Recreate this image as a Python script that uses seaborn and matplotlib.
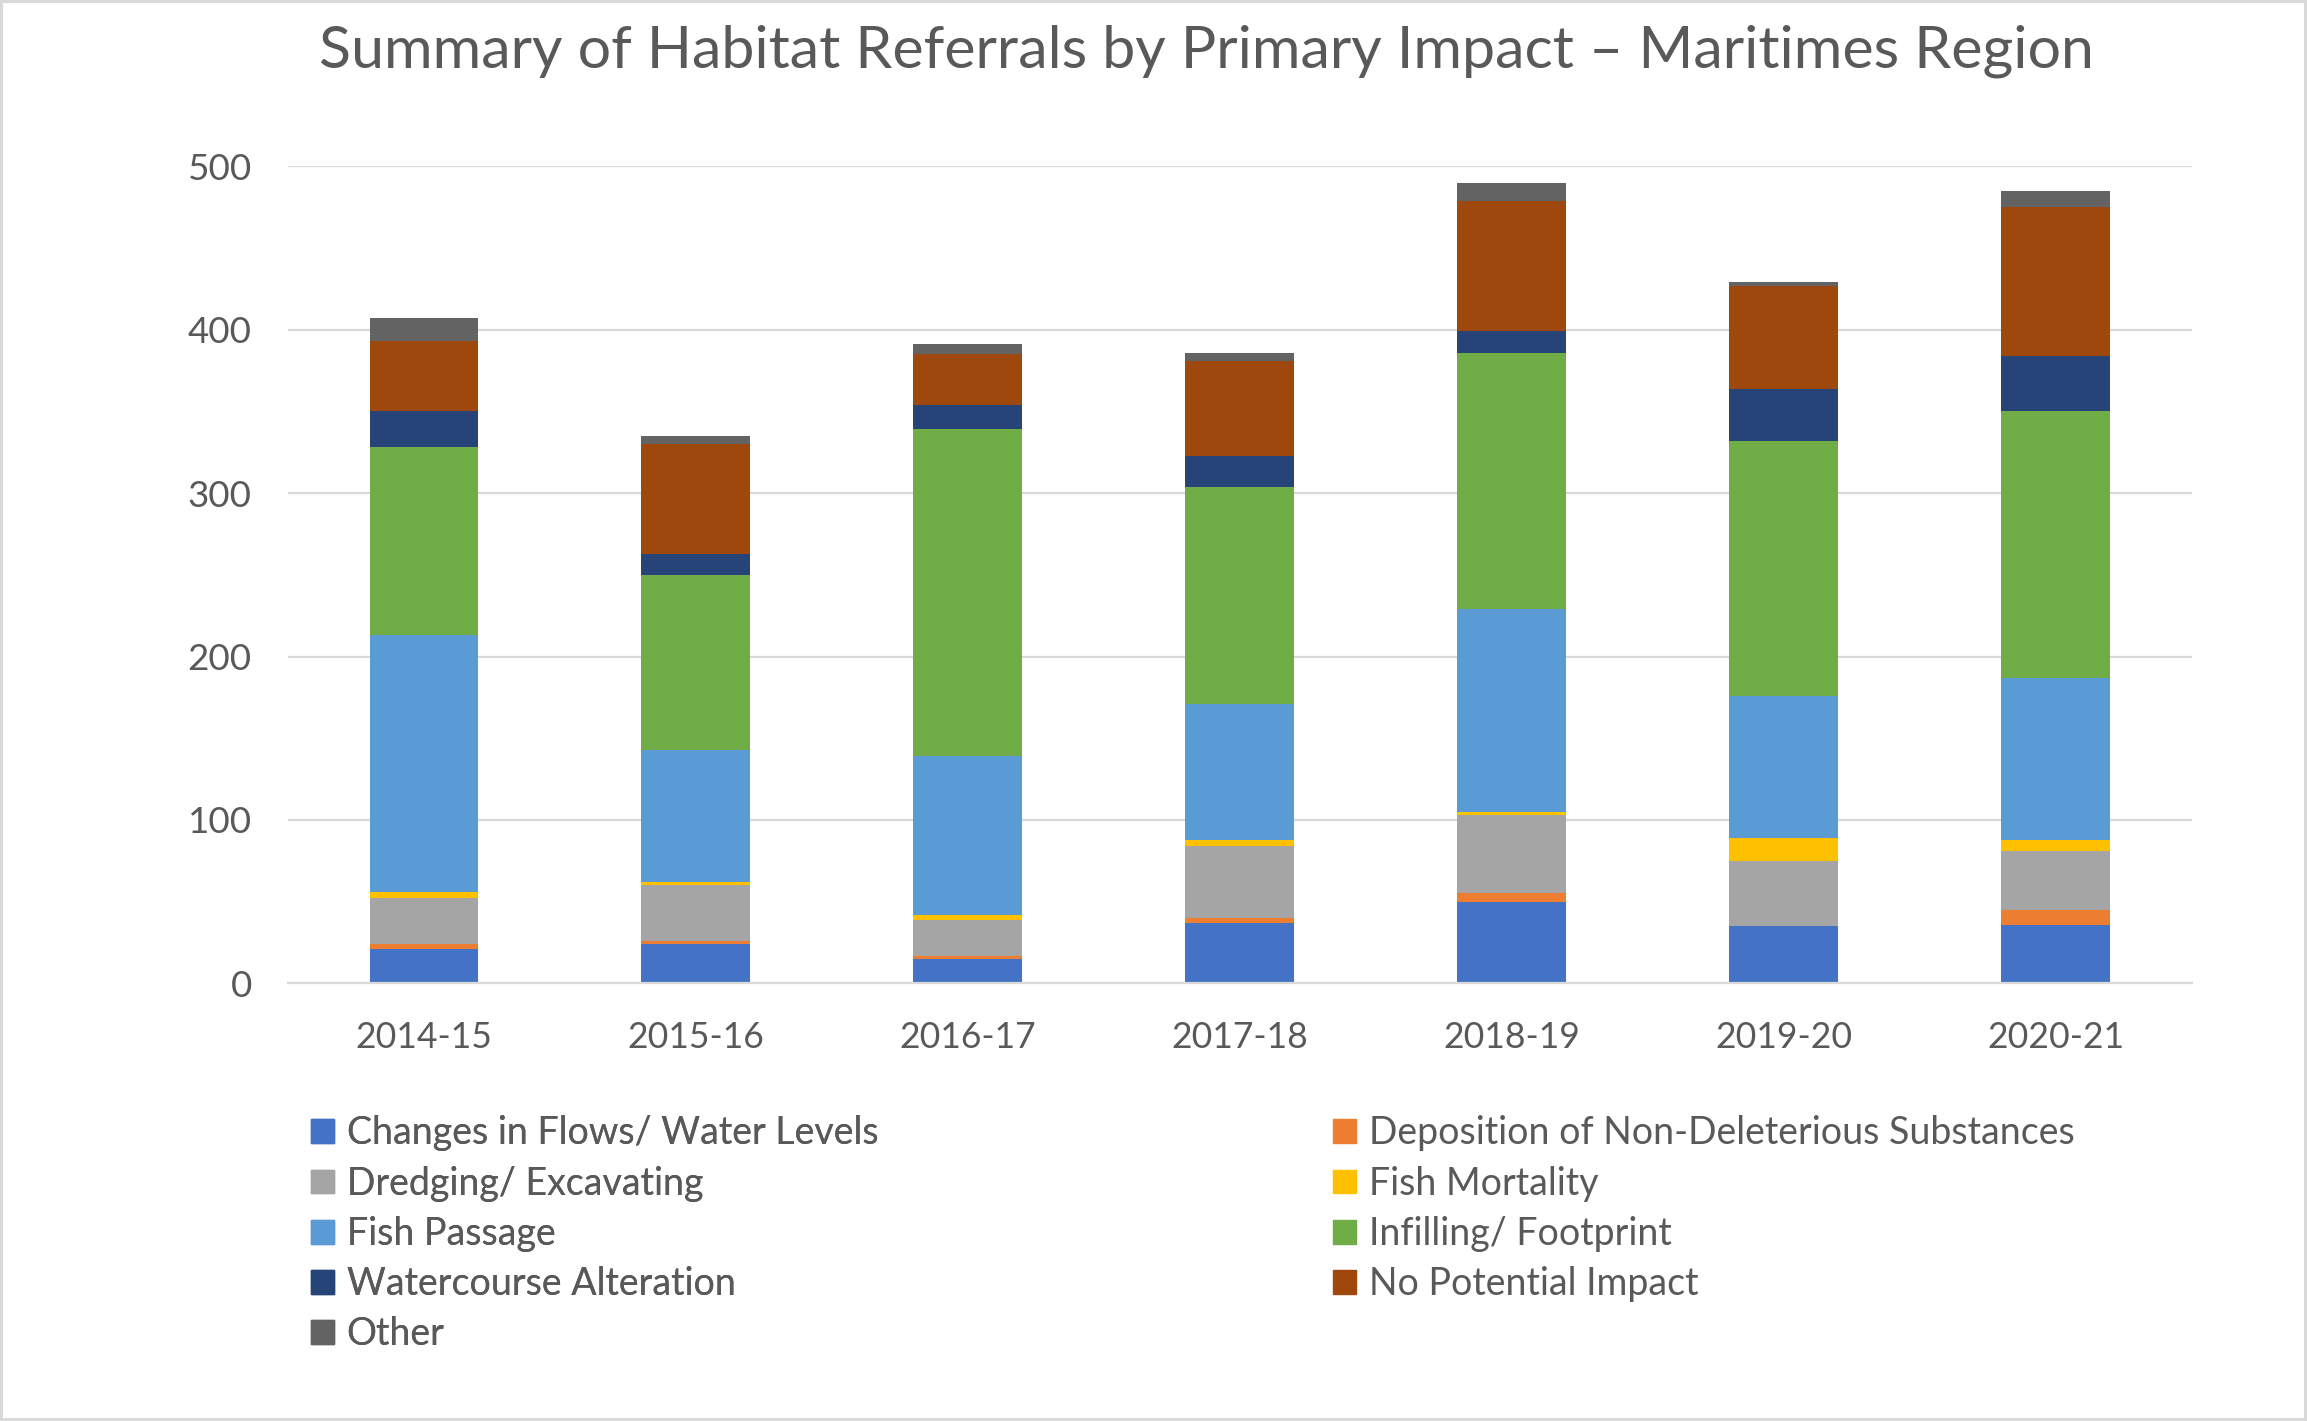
import numpy as np
import matplotlib
matplotlib.use("Agg")
import matplotlib.pyplot as plt
import seaborn as sns
from matplotlib.patches import Patch

sns.set_theme(style="white")
plt.rcParams['font.family'] = ['Lato', 'DejaVu Sans']

# values
years = ['2014-15', '2015-16', '2016-17', '2017-18', '2018-19', '2019-20', '2020-21']
changes_flows = [21, 24, 15, 37, 50, 35, 36]
deposition = [3, 2, 2, 3, 5, 0, 9]
dredging = [28, 34, 22, 44, 48, 40, 36]
fish_mortality = [4, 2, 3, 4, 2, 14, 7]
fish_passage = [157, 81, 97, 83, 124, 87, 99]
infilling = [115, 107, 200, 133, 157, 156, 163]
watercourse = [22, 13, 15, 19, 13, 32, 34]
no_impact = [43, 67, 31, 58, 80, 63, 91]
other = [14, 5, 6, 5, 11, 2, 10]

series = [
    ('Changes in Flows/ Water Levels', changes_flows, '#4472C4'),
    ('Deposition of Non-Deleterious Substances', deposition, '#ED7D31'),
    ('Dredging/ Excavating', dredging, '#A5A5A5'),
    ('Fish Mortality', fish_mortality, '#FFC000'),
    ('Fish Passage', fish_passage, '#5B9BD5'),
    ('Infilling/ Footprint', infilling, '#70AD47'),
    ('Watercourse Alteration', watercourse, '#264478'),
    ('No Potential Impact', no_impact, '#9E480E'),
    ('Other', other, '#636363'),
]

txt = '#595959'
grid = '#D9D9D9'

fig = plt.figure(figsize=(23.07, 14.21), dpi=100)
fig.patch.set_edgecolor(grid)
fig.patch.set_linewidth(3)
ax = fig.add_axes([0.1248, 0.308, 0.8252, 0.575])

bottom = np.zeros(len(years))
for name, vals, col in series:
    sns.barplot(x=years, y=vals, bottom=bottom, color=col, saturation=1,
                width=0.4, errorbar=None, linewidth=0, ax=ax)
    bottom += np.array(vals)

ax.set_ylim(0, 500)
ax.set_yticks(range(0, 501, 100))
ax.yaxis.grid(True, color=grid, linewidth=1.6)
ax.set_axisbelow(True)
for s in ['top', 'right', 'left']:
    ax.spines[s].set_visible(False)
ax.spines['bottom'].set_color(grid)
ax.spines['bottom'].set_linewidth(1.6)
ax.tick_params(axis='both', length=0, labelcolor=txt)
ax.tick_params(axis='y', pad=26, labelsize=26.5)
ax.tick_params(axis='x', pad=27, labelsize=25.6)
ax.set_xlabel('')
ax.set_ylabel('')

fig.text(0.523, 0.964, 'Summary of Habitat Referrals by Primary Impact \u2013 Maritimes Region',
         ha='center', va='center', fontsize=42.6, color=txt)

# legend in two columns, filled row by row like Excel
left = [series[i] for i in (0, 2, 4, 6, 8)]
right = [series[i] for i in (1, 3, 5, 7)]
leg_kw = dict(loc='upper left', frameon=False, fontsize=27, labelcolor=txt,
              handlelength=0.59, handleheight=0.59, handletextpad=0.35,
              labelspacing=0.38, borderpad=0, borderaxespad=0)
l1 = fig.legend([Patch(color=c) for _, _, c in left], [n for n, _, _ in left],
                bbox_to_anchor=(0.135, 0.215), **leg_kw)
fig.add_artist(l1)
fig.legend([Patch(color=c) for _, _, c in right], [n for n, _, _ in right],
           bbox_to_anchor=(0.578, 0.215), **leg_kw)

fig.savefig('out.png', dpi=100)
